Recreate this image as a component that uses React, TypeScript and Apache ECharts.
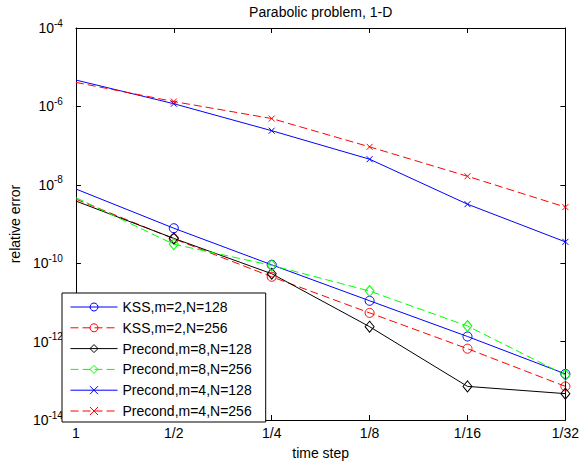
import React, { useEffect, useRef } from 'react';
import * as echarts from 'echarts';

const timeSteps = ['1', '1/2', '1/4', '1/8', '1/16', '1/32'];

const kss128 = [7.8e-9, 7.8e-10, 9.1e-11, 1.1e-11, 1.35e-12, 1.5e-13];
const kss256 = [4.3e-9, 4.2e-10, 4.5e-11, 5.4e-12, 6.6e-13, 7.2e-14];
const pre8n128 = [3.85e-9, 4.3e-10, 5.4e-11, 2.4e-12, 7.2e-14, 4.7e-14];
const pre8n256 = [4.7e-9, 3.05e-10, 8.8e-11, 1.95e-11, 2.5e-12, 1.4e-13];
const pre4n128 = [4.7e-6, 1.17e-6, 2.4e-7, 4.5e-8, 3.2e-9, 3.5e-10];
const pre4n256 = [4.1e-6, 1.33e-6, 4.9e-7, 9.3e-8, 1.65e-8, 2.7e-9];

const seriesNames = [
  'KSS,m=2,N=128',
  'KSS,m=2,N=256',
  'Precond,m=8,N=128',
  'Precond,m=8,N=256',
  'Precond,m=4,N=128',
  'Precond,m=4,N=256',
];

const FONT = '"Liberation Sans", Arial, Helvetica, sans-serif';

export default function App() {
  const ref = useRef<HTMLDivElement>(null);

  useEffect(() => {
    const chart = echarts.init(ref.current as HTMLDivElement, null, { renderer: 'svg' });
    const cross = 'path://M0,0L10,10M10,0L0,10';

    const mk = (
      name: string,
      data: number[],
      color: string,
      dashed: boolean,
      symbol: string,
      size: number | number[]
    ) => ({
      name,
      type: 'line',
      data: data.map((v, i) => (i === 0 ? { value: v, symbol: 'none' } : v)),
      showSymbol: true,
      symbol,
      symbolSize: size,
      lineStyle: { color, width: 1, type: dashed ? [8, 4] : 'solid' },
      itemStyle: { color: 'rgba(0,0,0,0)', borderColor: color, borderWidth: 1 },
      emphasis: { disabled: true },
      silent: true,
    });

    const yLabel = {
      margin: 13,
      formatter: (v: number) => {
        const e = Math.round(Math.log10(v));
        return `{b|10}{s|${e}}`;
      },
      rich: {
        b: { fontSize: 14, lineHeight: 20, fontFamily: FONT, color: '#000' },
        s: { fontSize: 10, lineHeight: 10, verticalAlign: 'top', fontFamily: FONT, color: '#000' },
      },
    };

    const axisLine = { show: true, lineStyle: { color: '#000', width: 1 } };
    const tick = { show: true, inside: true, length: 5, lineStyle: { color: '#000' } };

    chart.setOption({
      animation: false,
      backgroundColor: '#fff',
      textStyle: { fontFamily: FONT },
      grid: { left: 62, right: 13, top: 23, bottom: 43, containLabel: false },
      xAxis: [
        {
          type: 'category',
          data: timeSteps,
          boundaryGap: false,
          position: 'bottom',
          axisLine,
          axisTick: { ...tick, interval: 0 },
          axisLabel: { interval: 0, margin: 6, fontSize: 14, color: '#000', fontFamily: FONT },
          splitLine: { show: false },
          name: 'time step',
          nameLocation: 'middle',
          nameGap: 26,
          nameTextStyle: { fontSize: 14, color: '#000', fontFamily: FONT },
        },
        {
          type: 'category',
          data: timeSteps,
          boundaryGap: false,
          position: 'top',
          axisLine,
          axisTick: { ...tick, interval: 0 },
          axisLabel: { show: false },
          splitLine: { show: false },
          name: 'Parabolic problem, 1-D',
          nameLocation: 'middle',
          nameGap: 9,
          nameTextStyle: { fontSize: 14, color: '#000', fontFamily: FONT },
        },
      ],
      yAxis: [
        {
          type: 'log',
          logBase: 10,
          min: 1e-14,
          max: 1e-4,
          interval: 2,
          position: 'left',
          axisLine,
          axisTick: tick,
          axisLabel: yLabel,
          splitLine: { show: false },
          name: 'relative error',
          nameLocation: 'middle',
          nameGap: 43,
          nameTextStyle: { fontSize: 14, color: '#000', fontFamily: FONT },
        },
        {
          type: 'log',
          logBase: 10,
          min: 1e-14,
          max: 1e-4,
          interval: 2,
          position: 'right',
          axisLine,
          axisTick: tick,
          axisLabel: { show: false },
          splitLine: { show: false },
        },
      ],
      legend: {
        orient: 'vertical',
        left: 62,
        bottom: 43,
        padding: [7, 14, 4, 8],
        itemWidth: 47,
        itemHeight: 10,
        itemGap: 6.8,
        backgroundColor: '#fff',
        borderColor: '#000',
        borderWidth: 1,
        borderRadius: 0,
        selectedMode: false,
        lineStyle: { width: 1 },
        itemStyle: { borderWidth: 1 },
        textStyle: { fontSize: 14, lineHeight: 14, color: '#000', fontFamily: FONT },
        data: seriesNames,
      },
      series: [
        mk(seriesNames[0], kss128, '#0000ff', false, 'circle', 9),
        mk(seriesNames[1], kss256, '#ff0000', true, 'circle', 9),
        mk(seriesNames[2], pre8n128, '#000000', false, 'diamond', [9, 11]),
        mk(seriesNames[3], pre8n256, '#00ff00', true, 'diamond', [9, 11]),
        mk(seriesNames[4], pre4n128, '#0000ff', false, cross, 6),
        mk(seriesNames[5], pre4n256, '#ff0000', true, cross, 6),
      ],
    });

    return () => chart.dispose();
  }, []);

  return (
    <div
      ref={ref}
      style={{ position: 'fixed', left: 0, top: 0, width: 582, height: 465, background: '#fff' }}
    />
  );
}
